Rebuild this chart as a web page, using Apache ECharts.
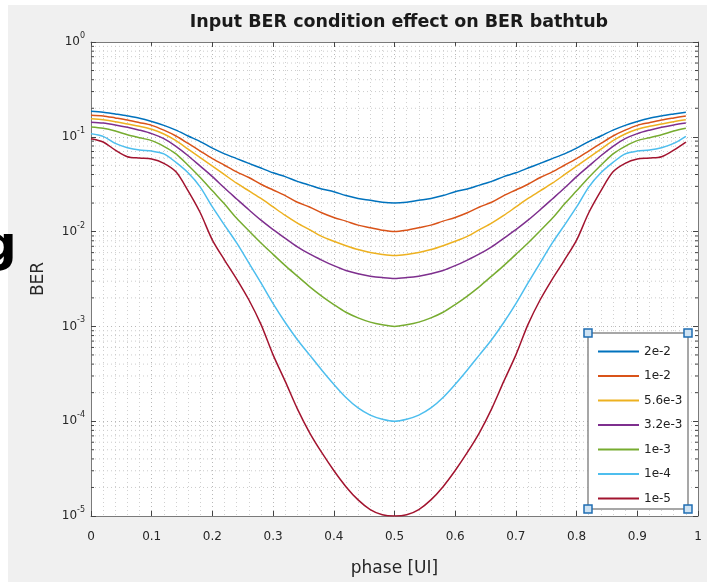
<!DOCTYPE html>
<html><head><meta charset="utf-8">
<script src="https://cdn.jsdelivr.net/npm/echarts@6/dist/echarts.min.js"></script>
<style>html,body{margin:0;padding:0;background:#fff;} #c{width:707px;height:582px;}</style>
</head><body><div id="c"></div>
<script>
// ---- data ----
const phase = [0, 0.02, 0.04, 0.06, 0.08, 0.10, 0.12, 0.14, 0.16, 0.18, 0.20, 0.22, 0.24, 0.26, 0.28, 0.30, 0.32, 0.34, 0.36, 0.38, 0.40, 0.42, 0.44, 0.46, 0.48, 0.50,
               0.52, 0.54, 0.56, 0.58, 0.60, 0.62, 0.64, 0.66, 0.68, 0.70, 0.72, 0.74, 0.76, 0.78, 0.80, 0.82, 0.84, 0.86, 0.88, 0.90, 0.92, 0.94, 0.96, 0.98];

const ber_2e2 = [0.186, 0.182, 0.174, 0.166, 0.157, 0.145, 0.132, 0.1175, 0.102, 0.0891, 0.0759, 0.0661, 0.0589, 0.0525, 0.0468, 0.0417, 0.038, 0.0339, 0.0309, 0.0282, 0.0263, 0.024, 0.0224, 0.0214, 0.0204, 0.020,
                 0.0204, 0.0214, 0.0224, 0.024, 0.0263, 0.0282, 0.0309, 0.0339, 0.038, 0.0417, 0.0468, 0.0525, 0.0589, 0.0661, 0.0759, 0.0891, 0.102, 0.1175, 0.132, 0.145, 0.157, 0.166, 0.174, 0.182];
const ber_1e2 = [0.169, 0.166, 0.158, 0.150, 0.141, 0.132, 0.1175, 0.102, 0.0851, 0.0708, 0.0589, 0.0501, 0.0427, 0.0372, 0.0316, 0.0275, 0.024, 0.0204, 0.0182, 0.0158, 0.0141, 0.0129, 0.0117, 0.011, 0.01035, 0.010,
                 0.01035, 0.011, 0.0117, 0.0129, 0.0141, 0.0158, 0.0182, 0.0204, 0.024, 0.0275, 0.0316, 0.0372, 0.0427, 0.0501, 0.0589, 0.0708, 0.0851, 0.102, 0.1175, 0.132, 0.141, 0.150, 0.158, 0.166];
const ber_56e3 = [0.155, 0.151, 0.1445, 0.1365, 0.129, 0.120, 0.107, 0.0912, 0.0741, 0.0603, 0.049, 0.0398, 0.0324, 0.0269, 0.0224, 0.0182, 0.0148, 0.0123, 0.0105, 0.0089, 0.0079, 0.0071, 0.00646, 0.00603, 0.00575, 0.0056,
                  0.00575, 0.00603, 0.00646, 0.0071, 0.0079, 0.0089, 0.0105, 0.0123, 0.0148, 0.0182, 0.0224, 0.0269, 0.0324, 0.0398, 0.049, 0.0603, 0.0741, 0.0912, 0.107, 0.120, 0.129, 0.1365, 0.1445, 0.151];
const ber_32e3 = [0.1426, 0.1396, 0.1334, 0.126, 0.1175, 0.108, 0.0955, 0.0794, 0.0631, 0.049, 0.038, 0.0288, 0.0221, 0.017, 0.0132, 0.0105, 0.0085, 0.00692, 0.00582, 0.00501, 0.00437, 0.00389, 0.00359, 0.00339, 0.00327, 0.0032,
                  0.00327, 0.00339, 0.00359, 0.00389, 0.00437, 0.00501, 0.00582, 0.00692, 0.0085, 0.0105, 0.0132, 0.017, 0.0221, 0.0288, 0.038, 0.049, 0.0631, 0.0794, 0.0955, 0.108, 0.1175, 0.126, 0.1334, 0.1396];
const ber_1e3 = [0.127, 0.123, 0.115, 0.105, 0.0977, 0.0912, 0.0794, 0.0661, 0.0501, 0.0372, 0.0269, 0.0195, 0.0138, 0.0102, 0.00759, 0.00575, 0.00437, 0.00339, 0.00263, 0.00209, 0.0017, 0.00141, 0.00123, 0.00111, 0.00104, 0.001,
                 0.00104, 0.00111, 0.00123, 0.00141, 0.0017, 0.00209, 0.00263, 0.00339, 0.00437, 0.00575, 0.00759, 0.0102, 0.0138, 0.0195, 0.0269, 0.0372, 0.0501, 0.0661, 0.0794, 0.0912, 0.0977, 0.105, 0.115, 0.123];
const ber_1e4 = [0.1076, 0.101, 0.0851, 0.0767, 0.0724, 0.0708, 0.0661, 0.0537, 0.0417, 0.0295, 0.0182, 0.0117, 0.00759, 0.00468, 0.00288, 0.00174, 0.0011, 0.000724, 0.000501, 0.000347, 0.000245, 0.000178, 0.000138, 0.000116, 0.000105, 0.0001,
                 0.000105, 0.000116, 0.000138, 0.000178, 0.000245, 0.000347, 0.000501, 0.000724, 0.0011, 0.00174, 0.00288, 0.00468, 0.00759, 0.0117, 0.0182, 0.0295, 0.0417, 0.0537, 0.0661, 0.0708, 0.0724, 0.0767, 0.0851, 0.101];
const ber_1e5 = [0.0955, 0.0881, 0.0724, 0.0617, 0.0596, 0.0582, 0.0525, 0.0427, 0.0269, 0.0158, 0.00813, 0.00501, 0.00316, 0.00191, 0.00105, 0.000501, 0.000263, 0.000135, 0.0000759, 0.0000468, 0.0000302, 0.0000204, 0.0000148, 0.0000117, 0.0000103, 0.00001,
                 0.0000103, 0.0000117, 0.0000148, 0.0000204, 0.0000302, 0.0000468, 0.0000759, 0.000135, 0.000263, 0.000501, 0.00105, 0.00191, 0.00316, 0.00501, 0.00813, 0.0158, 0.0269, 0.0427, 0.0525, 0.0582, 0.0596, 0.0617, 0.0724, 0.0881];

const seriesNames = ['2e-2', '1e-2', '5.6e-3', '3.2e-3', '1e-3', '1e-4', '1e-5'];
const seriesValues = [ber_2e2, ber_1e2, ber_56e3, ber_32e3, ber_1e3, ber_1e4, ber_1e5];
const colors = ['#0072BD', '#D95319', '#EDB120', '#7E2F8E', '#77AC30', '#4DBEEE', '#A2142F'];
const xTickLabels = ['0', '0.1', '0.2', '0.3', '0.4', '0.5', '0.6', '0.7', '0.8', '0.9', '1'];
const yDecades = [1e-5, 1e-4, 1e-3, 1e-2, 1e-1, 1];
const minorMult = [2, 3, 4, 5, 6, 7, 8, 9];

// minor log grid positions (grid decoration)
const yMinor = [];
for (let d = 0; d < yDecades.length - 1; d++) {
  for (const m of minorMult) yMinor.push([0, yDecades[d] * m]);
}

const FONT = 'DejaVu Sans';
const chart = echarts.init(document.getElementById('c'), null, {renderer: 'canvas'});

const lineSeries = seriesNames.map((n, i) => ({
  name: n, type: 'line', xAxisIndex: 0, yAxisIndex: 0,
  data: phase.map((p, k) => [p, seriesValues[i][k]]),
  showSymbol: false, symbol: 'none', smooth: 0.3,
  lineStyle: {color: colors[i], width: 1.5},
  itemStyle: {color: colors[i]},
  z: 3, animation: false
}));

const minorSeries = {
  type: 'custom', xAxisIndex: 0, yAxisIndex: 0, silent: true, z: 1, animation: false,
  data: yMinor,
  renderItem: function (params, api) {
    const v = api.value(1);
    const p0 = api.coord([0, v]);
    const p1 = api.coord([1, v]);
    return {
      type: 'group', children: [
        {type: 'line', shape: {x1: p0[0], y1: p0[1], x2: p1[0], y2: p1[1]}, style: {stroke: '#cccccc', lineDash: [1, 3], lineWidth: 1}},
        {type: 'line', shape: {x1: p0[0], y1: p0[1], x2: p0[0] + 3, y2: p0[1]}, style: {stroke: '#444', lineWidth: 1}},
        {type: 'line', shape: {x1: p1[0], y1: p1[1], x2: p1[0] - 3, y2: p1[1]}, style: {stroke: '#444', lineWidth: 1}}
      ]
    };
  }
};

const axisLineStyle = {color: '#7a7a7a', width: 1};
const tickStyle = {color: '#444', width: 1};

const option = {
  backgroundColor: '#f0f0f0',
  animation: false,
  title: {
    text: 'Input BER condition effect on BER bathtub',
    left: 394, top: 8, textAlign: 'center',
    textStyle: {fontFamily: FONT, fontWeight: 'bold', fontSize: 17.5, color: '#1a1a1a'}
  },
  grid: {left: 91, top: 42, width: 607, height: 477, show: true, backgroundColor: '#ffffff', borderWidth: 0},
  xAxis: [
    {
      type: 'value', min: 0, max: 1, interval: 0.1, position: 'bottom',
      name: 'phase [UI]', nameLocation: 'middle', nameGap: 44,
      nameTextStyle: {fontFamily: FONT, fontSize: 17, color: '#262626'},
      axisLine: {show: true, onZero: false, lineStyle: axisLineStyle},
      axisTick: {show: true, inside: true, length: 5, lineStyle: tickStyle},
      axisLabel: {margin: 15, fontFamily: FONT, fontSize: 12, color: '#262626',
        formatter: v => xTickLabels[Math.round(v * 10)]},
      splitLine: {show: true, lineStyle: {color: '#b8b8b8', type: [1, 3]}},
      minorTick: {show: false, splitNumber: 5},
      minorSplitLine: {show: true, lineStyle: {color: '#d0d0d0', type: [1, 3]}}
    },
    {
      type: 'value', min: 0, max: 1, interval: 0.1, position: 'top',
      axisLine: {show: true, onZero: false, lineStyle: axisLineStyle},
      axisTick: {show: true, inside: true, length: 5, lineStyle: tickStyle},
      axisLabel: {show: false}, splitLine: {show: false}
    }
  ],
  yAxis: [
    {
      type: 'log', logBase: 10, min: 1e-5, max: 1, position: 'left',
      name: 'BER', nameLocation: 'middle', nameGap: 44, nameRotate: 90,
      nameTextStyle: {fontFamily: FONT, fontSize: 17, color: '#262626'},
      axisLine: {show: true, onZero: false, lineStyle: axisLineStyle},
      axisTick: {show: true, inside: true, length: 5, lineStyle: tickStyle},
      axisLabel: {
        margin: 6,
        formatter: v => '{b|10}{s|' + Math.round(Math.log10(v)) + '}',
        rich: {
          b: {fontFamily: FONT, fontSize: 12, color: '#262626', lineHeight: 20},
          s: {fontFamily: FONT, fontSize: 8, color: '#262626', lineHeight: 10, verticalAlign: 'top'}
        }
      },
      splitLine: {show: true, lineStyle: {color: '#b8b8b8', type: [1, 3]}}
    },
    {
      type: 'log', logBase: 10, min: 1e-5, max: 1, position: 'right',
      axisLine: {show: true, onZero: false, lineStyle: axisLineStyle},
      axisTick: {show: true, inside: true, length: 5, lineStyle: tickStyle},
      axisLabel: {show: false}, splitLine: {show: false}
    }
  ],
  legend: {
    data: seriesNames, orient: 'vertical', left: 593, top: 339.5,
    icon: 'rect', itemWidth: 41, itemHeight: 2, itemGap: 10.5,
    textStyle: {fontFamily: FONT, fontSize: 12, color: '#222', lineHeight: 14},
    z: 20, selectedMode: false
  },
  graphic: [
    {type: 'rect', shape: {x: 0, y: 0, width: 8, height: 582}, style: {fill: '#ffffff'}, z: 0, silent: true},
    {type: 'rect', shape: {x: 0, y: 0, width: 707, height: 5}, style: {fill: '#ffffff'}, z: 0, silent: true},
    {type: 'text', x: -19, y: 248, style: {text: 'g', fontFamily: FONT, fontWeight: 'bold', fontSize: 50, fill: '#000', verticalAlign: 'middle'}, z: 1, silent: true},
    {type: 'rect', shape: {x: 588, y: 333, width: 100, height: 176}, style: {fill: '#ffffff', stroke: '#8a8a8a', lineWidth: 1.5}, z: 10, silent: true},
    {type: 'rect', shape: {x: 584, y: 329, width: 8, height: 8}, style: {fill: '#cfe3f3', stroke: '#1f6db3', lineWidth: 1.5}, z: 30, silent: true},
    {type: 'rect', shape: {x: 684, y: 329, width: 8, height: 8}, style: {fill: '#cfe3f3', stroke: '#1f6db3', lineWidth: 1.5}, z: 30, silent: true},
    {type: 'rect', shape: {x: 584, y: 505, width: 8, height: 8}, style: {fill: '#cfe3f3', stroke: '#1f6db3', lineWidth: 1.5}, z: 30, silent: true},
    {type: 'rect', shape: {x: 684, y: 505, width: 8, height: 8}, style: {fill: '#cfe3f3', stroke: '#1f6db3', lineWidth: 1.5}, z: 30, silent: true}
  ],
  series: [minorSeries].concat(lineSeries)
};
chart.setOption(option);
</script>
</body></html>
